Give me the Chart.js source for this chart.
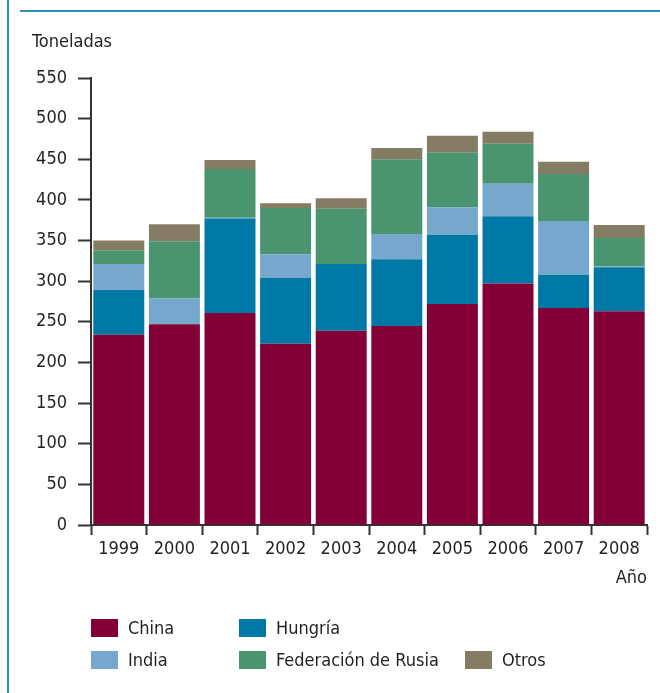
<!DOCTYPE html>
<html lang="es">
<head>
<meta charset="UTF-8">
<title>Toneladas por año</title>
<script src="https://cdn.jsdelivr.net/npm/chart.js"></script>
<style>
  html, body { margin: 0; padding: 0; background: #fff; }
  body { width: 660px; height: 693px; position: relative; overflow: hidden;
         font-family: "Liberation Sans Narrow", "DejaVu Sans Condensed", sans-serif; color: #231f20; }
  #wrap { position: absolute; left: 0; top: 0; width: 660px; height: 693px; }
  .vline { position: absolute; left: 7px; top: 0; width: 2px; height: 693px; background: #2f8cc4; }
  .hline { position: absolute; left: 20px; top: 10px; width: 640px; height: 2px; background: #2f8cc4; }
  .lbl { position: absolute; font-size: 18px; line-height: 20px; }
  .leg { position: absolute; display: flex; align-items: center; font-size: 18px; }
  .leg span.sw { display: inline-block; width: 27px; height: 18px; margin-right: 10px; }
</style>
</head>
<body>
<div class="vline"></div>
<div class="hline"></div>
<div id="wrap"><canvas id="chart" width="660" height="693"></canvas></div>
<div class="lbl" style="left:32px; top:31px;">Toneladas</div>
<div class="lbl" style="right:13px; top:567px;">Año</div>
<div id="legend"></div>

<script>
// datos (toneladas)
const years = ["1999", "2000", "2001", "2002", "2003", "2004", "2005", "2006", "2007", "2008"];
const china   = [234, 247, 261, 223, 239, 245, 272, 297, 267, 263];
const hungria = [55, 0, 116, 81, 82, 82, 85, 83, 41, 54];
const india   = [32, 32, 1, 29, 0, 31, 34, 40, 66, 1];
const rusia   = [17, 70, 60, 57, 68, 92, 67, 49, 58, 35];
const otros   = [12, 21, 11, 6, 13, 14, 21, 15, 15, 16];
const yTicks  = [0, 50, 100, 150, 200, 250, 300, 350, 400, 450, 500, 550];

const seriesNames  = ["China", "Hungría", "India", "Federación de Rusia", "Otros"];
const seriesColors = ["#820036", "#0078a6", "#76a7cc", "#4a9470", "#847d63"];
const seriesData   = [china, hungria, india, rusia, otros];

const FONT = "'Liberation Sans Narrow', 'DejaVu Sans Condensed', sans-serif";
const ink = "#231f20";

let ctx = document.getElementById("chart").getContext("2d");

let chart = new Chart(ctx, {
  type: "bar",
  data: {
    labels: years,
    datasets: seriesData.map((d, i) => ({
      label: seriesNames[i],
      data: d,
      backgroundColor: seriesColors[i],
      borderWidth: 0,
      barPercentage: 0.917,
      categoryPercentage: 1.0
    }))
  },
  options: {
    responsive: false,
    animation: false,
    layout: { padding: { left: 0, right: 13, top: 78, bottom: 0 } },
    plugins: { legend: { display: false }, tooltip: { enabled: false } },
    scales: {
      x: {
        stacked: true,
        offset: true,
        grid: { display: true, drawOnChartArea: false, offset: true, tickLength: 10, tickWidth: 2, tickColor: "#333" },
        border: { display: true, color: "#333", width: 2 },
        ticks: { color: ink, font: { family: FONT, size: 18 }, padding: 4, maxRotation: 0 },
        afterFit: s => { s.height = 693 - 525; }
      },
      y: {
        stacked: true,
        min: 0,
        max: 550,
        afterBuildTicks: s => { s.ticks = yTicks.map(v => ({ value: v })); },
        grid: { display: true, drawOnChartArea: false, tickLength: 13, tickWidth: 2, tickColor: "#333" },
        border: { display: true, color: "#333", width: 2 },
        ticks: { color: ink, font: { family: FONT, size: 18 }, padding: 11 },
        afterFit: s => { s.width = 91; }
      }
    }
  }
});

// leyenda
const legendPos = [[91, 618], [239, 618], [91, 650], [239, 650], [465, 650]];
const legend = document.getElementById("legend");
seriesNames.forEach((name, i) => {
  const el = document.createElement("div");
  el.className = "leg";
  el.style.left = legendPos[i][0] + "px";
  el.style.top = (legendPos[i][1] - 1) + "px";
  el.innerHTML = '<span class="sw" style="background:' + seriesColors[i] + '"></span>' + name;
  legend.appendChild(el);
});
</script>
</body>
</html>
